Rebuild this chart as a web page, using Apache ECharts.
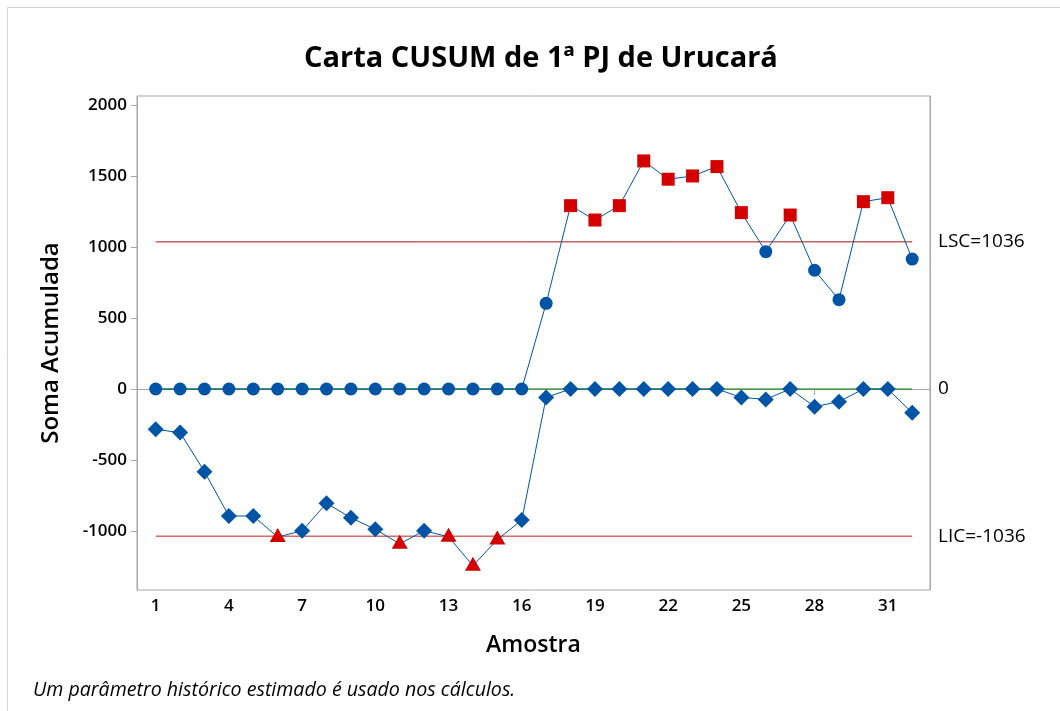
<!DOCTYPE html>
<html>
<head>
<meta charset="utf-8">
<script src="https://cdn.jsdelivr.net/npm/echarts@6/dist/echarts.min.js"></script>
<style>
html,body{margin:0;padding:0;background:#fff;}
#chart{width:1060px;height:711px;}
</style>
</head>
<body>
<div id="chart"></div>
<script>
// ---- data ----
const samples = [1,2,3,4,5,6,7,8,9,10,11,12,13,14,15,16,17,18,19,20,21,22,23,24,25,26,27,28,29,30,31,32];
const ciPlus  = [0,0,0,0,0,0,0,0,0,0,0,0,0,0,0,0,603,1291,1190,1291,1606,1477,1500,1566,1242,967,1225,836,629,1319,1347,915];
const ciMinus = [-284,-307,-582,-894,-894,-1042,-998,-805,-906,-988,-1090,-998,-1040,-1244,-1060,-923,-59,0,0,0,0,0,0,0,-59,-73,0,-124,-89,0,0,-167];
const LSC = 1036, LIC = -1036, CENTER = 0;
const xTicks = [1,4,7,10,13,16,19,22,25,28,31];
const yTicks = [-1000,-500,0,500,1000,1500,2000];
const limitLabels = {'1036':'LSC=1036','0':'0','-1036':'LIC=-1036'};

const BLUE = '#0054a6', RED = '#d40000';
const font = '"Open Sans", "Noto Sans", sans-serif';

const plusData = samples.map((s,i)=>{
  const out = ciPlus[i] > LSC;
  return out ? {value:[s,ciPlus[i]], symbol:'rect', symbolSize:13, itemStyle:{color:RED}} : {value:[s,ciPlus[i]]};
});
const minusData = samples.map((s,i)=>{
  const out = ciMinus[i] < LIC;
  return out ? {value:[s,ciMinus[i]], symbol:'triangle', symbolSize:[16,14], symbolOffset:[0,-2], itemStyle:{color:RED}} : {value:[s,ciMinus[i]]};
});
const first = samples[0], last = samples[samples.length-1];

const chart = echarts.init(document.getElementById('chart'));
chart.setOption({
  backgroundColor:'#fff',
  animation:false,
  title:{
    text:'Carta CUSUM de 1ª PJ de Urucará',
    left:299, top:39,
    textStyle:{fontFamily:font, fontSize:29, fontWeight:'bold', color:'#000'}
  },
  grid:{left:137, top:96, right:130, bottom:121, show:true, borderColor:'#a6a6a6', borderWidth:1},
  xAxis:{
    type:'value', min:0.234, max:32.73,
    name:'Amostra', nameLocation:'middle', nameGap:44,
    nameTextStyle:{fontFamily:font, fontSize:23, fontWeight:600, color:'#000'},
    axisLine:{show:true, lineStyle:{color:'#a6a6a6'}},
    axisTick:{show:true, customValues:xTicks, length:6, lineStyle:{color:'#a6a6a6'}},
    axisLabel:{customValues:xTicks, fontFamily:font, fontSize:17, fontWeight:600, color:'#000', margin:8},
    splitLine:{show:false}
  },
  yAxis:[{
    type:'value', min:-1415, max:2063,
    name:'Soma Acumulada', nameLocation:'middle', nameGap:74,
    nameTextStyle:{fontFamily:font, fontSize:24, fontWeight:600, color:'#000'},
    axisLine:{show:true, lineStyle:{color:'#a6a6a6'}},
    axisTick:{show:true, customValues:yTicks, length:6, lineStyle:{color:'#a6a6a6'}},
    axisLabel:{customValues:yTicks, fontFamily:font, fontSize:17, fontWeight:600, color:'#000', margin:10,
      formatter:v=>String(v)},
    splitLine:{show:false}
  },{
    type:'value', min:-1415, max:2063, position:'right',
    axisLine:{show:true, lineStyle:{color:'#a6a6a6'}},
    axisTick:{show:false},
    axisLabel:{customValues:[LIC,CENTER,LSC], fontFamily:font, fontSize:19, color:'#000', margin:8,
      formatter:v=>limitLabels[String(v)] || ''},
    splitLine:{show:false}
  }],
  series:[
    {type:'line', data:[[first,CENTER],[last,CENTER]], symbol:'none', lineStyle:{color:'#008000', width:1}, z:1, silent:true},
    {type:'line', data:[[first,LSC],[last,LSC]], symbol:'none', lineStyle:{color:'#a01818', width:1}, z:1, silent:true},
    {type:'line', data:[[first,LIC],[last,LIC]], symbol:'none', lineStyle:{color:'#c02020', width:1}, z:1, silent:true},
    {type:'line', data:minusData, symbol:'diamond', symbolSize:[16,16], itemStyle:{color:BLUE}, lineStyle:{color:BLUE, width:1}, z:3},
    {type:'line', data:plusData, symbol:'circle', symbolSize:13, itemStyle:{color:BLUE}, lineStyle:{color:BLUE, width:1}, z:4}
  ],
  graphic:[
    {type:'rect', shape:{x:7.5, y:7.5, width:1200, height:900}, style:{fill:'none', stroke:'#d4d4d4', lineWidth:1}, silent:true},
    {type:'text', left:33, top:680, style:{text:'Um parâmetro histórico estimado é usado nos cálculos.', font:'italic 19.6px "Open Sans", "Noto Sans", sans-serif', fill:'#000'}}
  ]
});
</script>
</body>
</html>
